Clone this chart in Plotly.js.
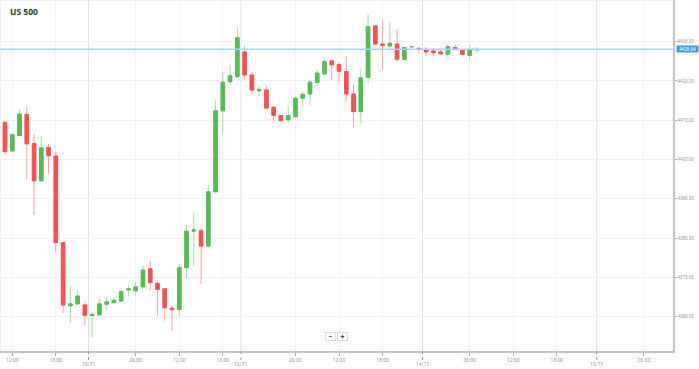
<!DOCTYPE html>
<html>
<head>
<meta charset="utf-8">
<script src="https://cdn.plot.ly/plotly-3.0.1.min.js"></script>
<style>
html,body{margin:0;padding:0;background:#fff;}
#chart{width:699px;height:369px;}
</style>
</head>
<body>
<div id="chart"></div>
<script>
// hourly candles, US 500
const openP  = [4409.5,4402.2,4406.1,4411.5,4404.1,4394.6,4403.1,4400.9,4378.9,4362.8,4363.3,4363.0,4360.3,4360.5,4363.2,4363.6,4364.0,4366.8,4366.6,4367.6,4372.2,4368.5,4367.1,4362.2,4361.9,4372.5,4381.8,4381.9,4378.0,4391.8,4412.4,4419.8,4421.1,4427.4,4421.5,4417.5,4417.7,4413.3,4411.2,4410.1,4410.9,4415.6,4416.7,4419.6,4421.8,4425.1,4424.2,4422.4,4416.7,4412.2,4420.9,4434.0,4429.4,4428.9,4429.4,4425.5,4428.7,4428.3,4427.9,4427.6,4427.4,4426.8,4428.5,4427.9,4426.5,4427.9];
const highP  = [4409.7,4406.7,4412.6,4413.5,4406.5,4405.8,4404.0,4401.9,4379.0,4367.7,4366.8,4363.8,4361.0,4364.5,4365.1,4365.1,4367.3,4368.1,4368.9,4373.2,4374.2,4368.9,4367.3,4363.0,4373.4,4383.4,4386.5,4382.5,4393.4,4415.0,4422.4,4424.1,4433.8,4428.9,4422.4,4418.7,4418.8,4413.6,4411.3,4413.7,4416.0,4417.3,4420.4,4422.8,4425.3,4425.6,4424.7,4426.4,4419.4,4423.1,4437.0,4434.0,4435.5,4434.9,4433.2,4428.6,4428.8,4428.6,4428.7,4428.3,4428.1,4429.3,4429.2,4428.1,4429.2,4428.6];
const lowP   = [4401.3,4402.0,4406.0,4395.0,4385.9,4394.5,4396.3,4376.3,4361.0,4358.5,4363.0,4357.9,4354.8,4360.4,4361.7,4363.4,4363.9,4365.1,4365.4,4367.5,4366.8,4360.3,4359.0,4356.4,4360.3,4369.8,4373.0,4368.3,4377.6,4391.4,4406.5,4419.0,4420.9,4420.3,4416.7,4416.2,4413.0,4409.6,4409.7,4409.4,4410.9,4413.5,4413.7,4418.8,4421.5,4420.4,4419.8,4414.9,4408.0,4409.2,4419.2,4429.4,4423.0,4427.7,4424.8,4425.4,4428.6,4426.8,4426.2,4426.2,4426.8,4425.8,4427.9,4426.5,4425.5,4427.0];
const closeP = [4402.0,4406.3,4411.6,4404.0,4394.6,4403.0,4401.0,4378.9,4363.0,4363.3,4365.3,4360.4,4360.6,4363.3,4363.8,4364.2,4366.4,4367.1,4367.6,4371.9,4368.7,4367.0,4362.3,4361.8,4372.5,4381.8,4382.1,4378.0,4391.8,4412.4,4419.7,4421.3,4431.0,4421.5,4417.7,4417.8,4413.1,4411.3,4409.9,4411.2,4415.6,4416.6,4419.7,4422.0,4424.9,4424.1,4422.5,4416.7,4412.2,4420.8,4433.8,4429.4,4429.1,4429.6,4425.5,4428.5,4428.7,4428.0,4427.4,4427.2,4426.9,4428.7,4428.1,4426.8,4427.9,4428.04];
const lastPrice = 4428.04;

const yTicks = [4360,4370,4380,4390,4400,4410,4420,4430];
const timeTickPos = [1,7,18,24,30,40,46,52,64,70,76,88];
const timeTickText = ['12:00','18:00','06:00','12:00','18:00','06:00','12:00','18:00','06:00','12:00','18:00','06:00'];
const dateTickPos = [11.5,32.5,57.5,81.5];
const dateTickText = ['10/11','12/11','14/11','15/11'];

const idx = openP.map((_, i) => i);
const isDoji = idx.map(i => openP[i] === closeP[i]);
const pick = (arr, cond) => arr.map((v, i) => cond(i) ? v : null);
const notDoji = i => !isDoji[i];
const doji = i => isDoji[i];

const RED = '#f05454', RED_W = '#f7a4a4';
const GRN = '#5cb85c', GRN_W = '#a9dba9';

const wicks = {
  type: 'candlestick', x: idx,
  open: pick(openP, notDoji), high: pick(highP, notDoji), low: pick(lowP, notDoji), close: pick(closeP, notDoji),
  increasing: {line: {color: GRN_W, width: 1}, fillcolor: GRN},
  decreasing: {line: {color: RED_W, width: 1}, fillcolor: RED},
  hoverinfo: 'skip', showlegend: false
};
const bodies = {
  type: 'candlestick', x: idx,
  open: pick(openP, notDoji), close: pick(closeP, notDoji),
  high: idx.map(i => isDoji[i] ? null : Math.max(openP[i], closeP[i])),
  low: idx.map(i => isDoji[i] ? null : Math.min(openP[i], closeP[i])),
  increasing: {line: {color: GRN, width: 1}, fillcolor: GRN},
  decreasing: {line: {color: RED, width: 1}, fillcolor: RED},
  hoverinfo: 'skip', showlegend: false
};
const dojis = {
  type: 'candlestick', x: idx,
  open: pick(openP, doji), high: pick(highP, doji), low: pick(lowP, doji), close: pick(closeP, doji),
  increasing: {line: {color: '#9a9a9a', width: 1}, fillcolor: '#9a9a9a'},
  decreasing: {line: {color: '#9a9a9a', width: 1}, fillcolor: '#9a9a9a'},
  hoverinfo: 'skip', showlegend: false
};

const shapes = [
  {type: 'line', xref: 'paper', yref: 'y', x0: 0, x1: 1, y0: lastPrice, y1: lastPrice,
   line: {color: '#a9d2f3', width: 1.5}, layer: 'above'},
  {type: 'line', xref: 'paper', yref: 'paper', x0: 0, x1: 0, y0: 0, y1: 1, line: {color: '#e4e4e4', width: 1}},
  {type: 'line', xref: 'paper', yref: 'paper', x0: 0, x1: 1, y0: 1, y1: 1, line: {color: '#e4e4e4', width: 1}}
];
dateTickPos.forEach(p => {
  shapes.push({type: 'line', xref: 'x', yref: 'paper', x0: p, x1: p, y0: 0, y1: 1,
    line: {color: '#e2e2e2', width: 1}, layer: 'below'});
  shapes.push({type: 'line', xref: 'x', yref: 'paper', x0: p, x1: p, y0: 0, y1: -0.031,
    line: {color: '#999', width: 1, dash: 'dot'}});
});

const annotations = dateTickText.map((t, i) => ({
  x: dateTickPos[i], xref: 'x', y: 0, yref: 'paper', yanchor: 'middle', yshift: -12.7,
  text: t, showarrow: false, font: {family: 'Roboto', size: 5, color: '#999'}
}));
annotations.push({
  x: 1, xref: 'paper', y: lastPrice, yref: 'y', xanchor: 'left', yanchor: 'middle', xshift: 3,
  text: lastPrice.toFixed(2), showarrow: false, bgcolor: '#3a9be8', borderpad: 1,
  width: 19, height: 4,
  font: {family: 'Roboto', size: 4.5, color: '#ffffff'}
});
annotations.push({
  x: 330.7 / 672.7, xref: 'paper', y: 0.0293, yref: 'paper', text: '<b>−</b>', showarrow: false,
  width: 9, height: 7, bgcolor: '#ffffff', bordercolor: '#dddddd', borderwidth: 1, borderpad: 0,
  font: {family: 'Roboto', size: 7, color: '#444'}
});
annotations.push({
  x: 342.7 / 672.7, xref: 'paper', y: 0.0293, yref: 'paper', text: '<b>+</b>', showarrow: false,
  width: 9, height: 7, bgcolor: '#ffffff', bordercolor: '#dddddd', borderwidth: 1, borderpad: 0,
  font: {family: 'Roboto', size: 7, color: '#444'}
});

const layout = {
  width: 699, height: 369,
  margin: {l: 0, r: 26.3, t: 0, b: 18, pad: 0},
  paper_bgcolor: '#ffffff', plot_bgcolor: '#ffffff',
  showlegend: false,
  title: {text: '<b>US 500</b>', xref: 'container', yref: 'container', x: 10 / 699, xanchor: 'left',
          y: 1 - 12 / 369, yanchor: 'middle', font: {family: 'Open Sans', size: 8.5, color: '#333'}},
  xaxis: {
    range: [-0.69, 92.0], rangeslider: {visible: false}, type: 'linear',
    tickmode: 'array', tickvals: timeTickPos, ticktext: timeTickText,
    showgrid: true, gridcolor: '#f2f2f2', gridwidth: 1, zeroline: false,
    showline: true, linecolor: '#c4c4c4', linewidth: 1.5,
    ticks: 'outside', ticklen: 3, tickcolor: '#aaa', tickwidth: 1,
    tickfont: {family: 'Roboto', size: 5, color: '#999'}, fixedrange: true
  },
  yaxis: {
    range: [4351.3, 4440.6], side: 'right',
    tickmode: 'array', tickvals: yTicks, ticktext: yTicks.map(v => v.toFixed(2)),
    showgrid: true, gridcolor: '#f2f2f2', gridwidth: 1, zeroline: false,
    showline: true, linecolor: '#c4c4c4', linewidth: 1.5,
    ticks: 'outside', ticklen: 2, tickcolor: '#aaa', tickwidth: 1,
    tickfont: {family: 'Roboto', size: 4.5, color: '#999'}, fixedrange: true
  },
  shapes: shapes,
  annotations: annotations,
  hovermode: false
};

Plotly.newPlot('chart', [wicks, bodies, dojis], layout, {staticPlot: true, displayModeBar: false});
</script>
</body>
</html>
